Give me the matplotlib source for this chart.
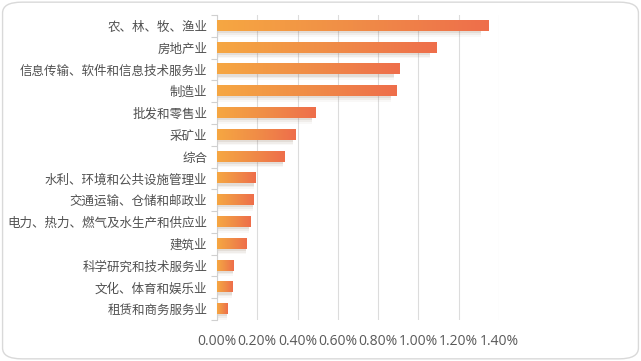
import matplotlib
matplotlib.use("Agg")
import matplotlib.pyplot as plt
import numpy as np
from matplotlib.patches import FancyBboxPatch
from matplotlib.colors import LinearSegmentedColormap
from matplotlib.ticker import FuncFormatter

plt.rcParams['font.family'] = ['Noto Sans CJK SC', 'DejaVu Sans']

categories = ["农、林、牧、渔业", "房地产业", "信息传输、软件和信息技术服务业", "制造业",
              "批发和零售业", "采矿业", "综合", "水利、环境和公共设施管理业",
              "交通运输、仓储和邮政业", "电力、热力、燃气及水生产和供应业", "建筑业",
              "科学研究和技术服务业", "文化、体育和娱乐业", "租赁和商务服务业"]
values = [1.35, 1.09, 0.905, 0.89, 0.487, 0.39, 0.336, 0.19, 0.183, 0.166, 0.146, 0.08, 0.077, 0.05]
xticks = [0.0, 0.2, 0.4, 0.6, 0.8, 1.0, 1.2, 1.4]

fig = plt.figure(figsize=(6.41, 3.61), dpi=100)
border = FancyBboxPatch((0.004, 0.006), 0.992, 0.988, boxstyle="round,pad=0,rounding_size=0.03",
                        transform=fig.transFigure, fc="white", ec="#d9d9d9", lw=1.0, zorder=-5)
fig.patches.append(border)

ax = fig.add_axes([217/641, 1-320/361, (499-217)/641, (320-15)/361])
ax.set_facecolor("none")
n = len(categories)
ypos = np.arange(n)

cmap = LinearSegmentedColormap.from_list("g", ["#F6A742", "#F08D47", "#EE6E4B"])
grad = np.linspace(0, 1, 256).reshape(1, -1)
h = 0.46
for y, v in zip(ypos, values):
    # shadow
    for k, a in [(0.10, 0.10), (0.18, 0.07), (0.26, 0.04)]:
        ax.barh(y + k, v * 0.97, height=h, color="#7a5a40", alpha=a, lw=0, zorder=2)
    ax.imshow(grad, cmap=cmap, aspect="auto", extent=[0, v, y + h/2, y - h/2],
              zorder=3, interpolation="bilinear")

ax.set_xlim(0, 1.4)
ax.set_ylim(n - 0.5, -0.5)
ax.set_aspect("auto")

ax.set_yticks(ypos)
ax.set_yticklabels(categories, fontsize=9.0, color="#505050")
ax.set_yticks(np.arange(-0.5, n, 1), minor=True)
ax.tick_params(axis="y", which="major", length=0, pad=7)
ax.tick_params(axis="y", which="minor", length=4, color="#d0d0d0", width=0.8)

ax.set_xticks(xticks)
ax.xaxis.set_major_formatter(FuncFormatter(lambda v, p: f"{v:.2f}%"))
ax.tick_params(axis="x", length=0, pad=10, labelsize=10, labelcolor="#595959")
for lab in ax.get_xticklabels():
    lab.set_family(["Open Sans", "DejaVu Sans"])
ax.grid(axis="x", color="#dcdcdc", lw=0.8, zorder=0)
ax.set_axisbelow(True)
for s in ["top", "right", "bottom"]:
    ax.spines[s].set_visible(False)
ax.spines["left"].set_color("#d0d0d0")
ax.spines["left"].set_linewidth(0.8)

fig.savefig("out.png", dpi=100)
